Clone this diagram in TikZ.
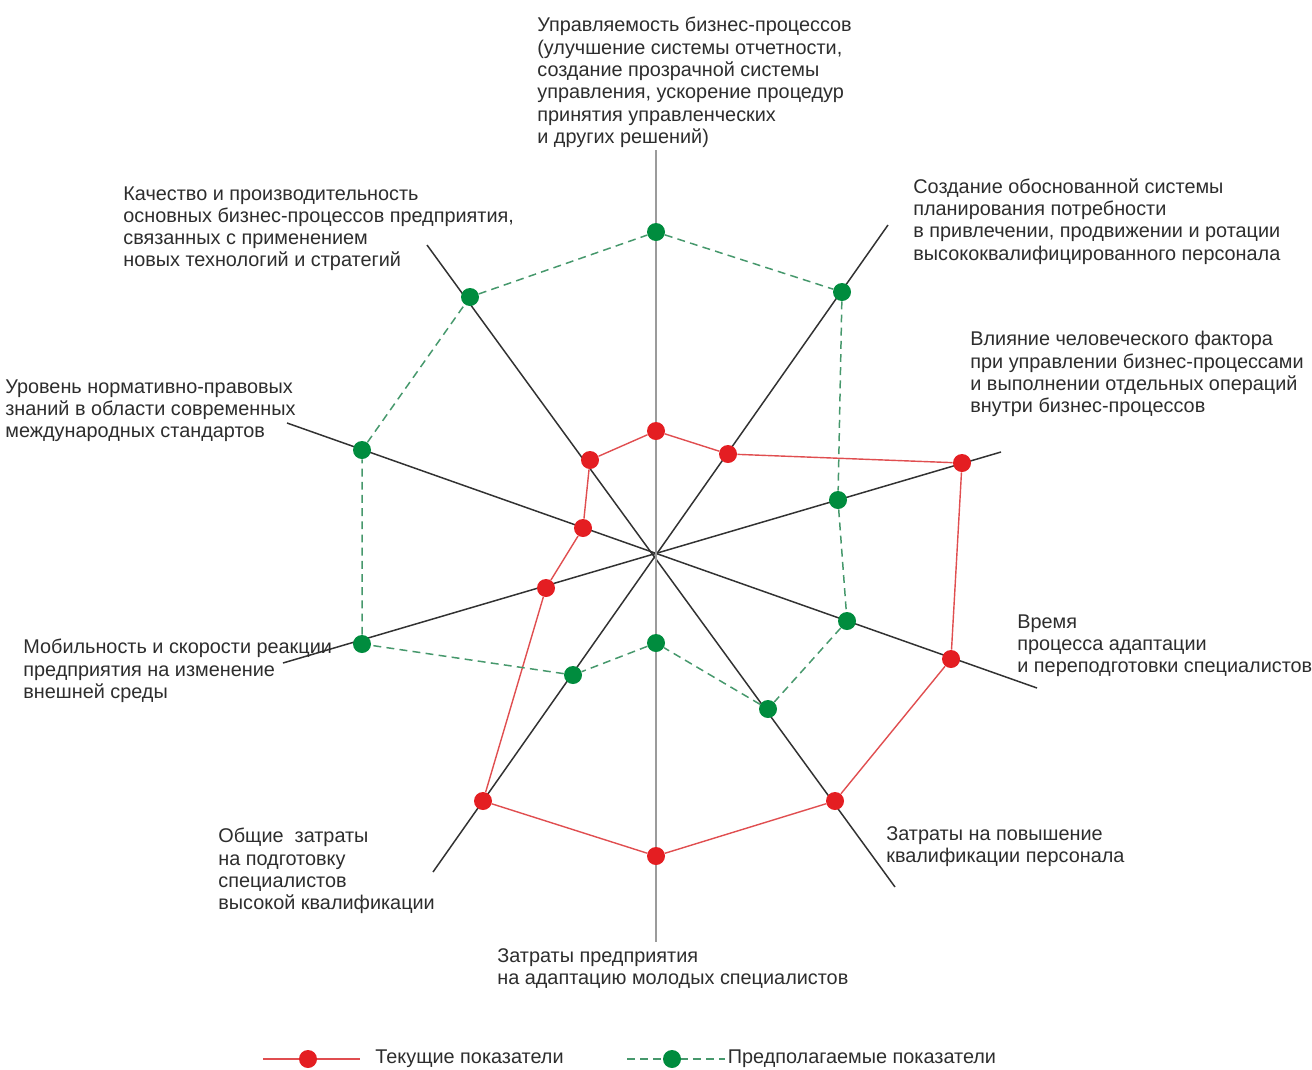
\documentclass[tikz,border=0pt]{standalone}
\usepackage{fontspec}
\setmainfont{Liberation Sans}
\usetikzlibrary{positioning}
\definecolor{mytext}{RGB}{45,45,45}
\definecolor{mydarkgray}{RGB}{50,50,50}
\definecolor{mylightgray}{RGB}{155,155,155}
\definecolor{mydarkred}{RGB}{228,30,34}
\definecolor{mylightred}{RGB}{224,78,80}
\definecolor{mydarkgreen}{RGB}{0,140,62}
\definecolor{mylightgreen}{RGB}{70,152,108}
\newcommand{\dotsize}{0.36cm}
\newcommand{\legendgap}{3mm}
\tikzset{
    axis/.style={draw=mydarkgray, line width=0.85pt},
    mainaxis/.style={draw=mylightgray, line width=1.6pt},
    dot/.style={circle, inner sep=0pt, minimum size=\dotsize},
    curdot/.style={dot, fill=mydarkred},
    plandot/.style={dot, fill=mydarkgreen},
    curline/.style={draw=mylightred, line width=0.8pt},
    planline/.style={draw=mylightgreen, line width=0.85pt, dash pattern=on 4.5pt off 3pt},
    caption/.style={anchor=north west, align=left, inner sep=0pt, text=mytext,
        font=\fontsize{11.3}{12.7}\selectfont}
}
\begin{document}
\begin{tikzpicture}[x=0.02cm, y=-0.02cm]
    \useasboundingbox (0,0) rectangle (1312,1069);

    \coordinate (ax-top) at (656,150);
    \coordinate (ax-bottom) at (656,942);
    \coordinate (ax-ne) at (888,225);
    \coordinate (ax-sw) at (433,872);
    \coordinate (ax-nw) at (427,245);
    \coordinate (ax-se) at (895,887);
    \coordinate (ax-ene) at (1001,452);
    \coordinate (ax-wsw) at (283,663);
    \coordinate (ax-wnw) at (287,423);
    \coordinate (ax-ese) at (1037,688);

    \draw[axis] (ax-ne) -- (ax-sw);
    \draw[axis] (ax-nw) -- (ax-se);
    \draw[axis] (ax-ene) -- (ax-wsw);
    \draw[axis] (ax-wnw) -- (ax-ese);
    \draw[mainaxis] (ax-top) -- (ax-bottom);

    % current values
    \path
        node[curdot] (cur-top) at (656,431) {}
        node[curdot] (cur-ne) at (728,454) {}
        node[curdot] (cur-ene) at (962,463) {}
        node[curdot] (cur-ese) at (951,659) {}
        node[curdot] (cur-se) at (835,801) {}
        node[curdot] (cur-bottom) at (656,856) {}
        node[curdot] (cur-sw) at (483,801) {}
        node[curdot] (cur-wsw) at (546,588) {}
        node[curdot] (cur-wnw) at (583,528) {}
        node[curdot] (cur-nw) at (590,460) {};

    % planned values
    \path
        node[plandot] (plan-top) at (656,232) {}
        node[plandot] (plan-ne) at (842,292) {}
        node[plandot] (plan-ene) at (838,500) {}
        node[plandot] (plan-ese) at (847,621) {}
        node[plandot] (plan-se) at (768,709) {}
        node[plandot] (plan-bottom) at (656,643) {}
        node[plandot] (plan-sw) at (573,675) {}
        node[plandot] (plan-wsw) at (362,644) {}
        node[plandot] (plan-wnw) at (362,450) {}
        node[plandot] (plan-nw) at (470,297) {};

    \draw[curline] (cur-top) -- (cur-ne) -- (cur-ene) -- (cur-ese) -- (cur-se) -- (cur-bottom)
        -- (cur-sw) -- (cur-wsw) -- (cur-wnw) -- (cur-nw) -- (cur-top);
    \draw[planline] (plan-top) -- (plan-ne) -- (plan-ene) -- (plan-ese) -- (plan-se) -- (plan-bottom)
        -- (plan-sw) -- (plan-wsw) -- (plan-wnw) -- (plan-nw) -- (plan-top);

    \node[caption] (lab-top) at (537,17) {Управляемость бизнес-процессов\\(улучшение системы отчетности,\\создание прозрачной системы\\управления, ускорение процедур\\принятия управленческих\\и других решений)};
    \node[caption] (lab-ne) at (913,178) {Создание обоснованной системы\\планирования потребности\\в привлечении, продвижении и ротации\\высококвалифицированного персонала};
    \node[caption] (lab-ene) at (970,331) {Влияние человеческого фактора\\при управлении бизнес-процессами\\и выполнении отдельных операций\\внутри бизнес-процессов};
    \node[caption] (lab-ese) at (1017,614) {Время\\процесса адаптации\\и переподготовки специалистов};
    \node[caption] (lab-se) at (886,826) {Затраты на повышение\\квалификации персонала};
    \node[caption] (lab-bottom) at (497,948) {Затраты предприятия\\на адаптацию молодых специалистов};
    \node[caption] (lab-sw) at (218,828) {Общие\ \ затраты\\на подготовку\\специалистов\\высокой квалификации};
    \node[caption] (lab-wsw) at (23,639) {Мобильность и скорости реакции\\предприятия на изменение\\внешней среды};
    \node[caption] (lab-wnw) at (5,379) {Уровень нормативно-правовых\\знаний в области современных\\международных стандартов};
    \node[caption] (lab-nw) at (123,186) {Качество и производительность\\основных бизнес-процессов предприятия,\\связанных с применением\\новых технологий и стратегий};

    % legend
    \coordinate (leg-cur-a) at (263,1059);
    \coordinate (leg-cur-b) at (360,1059);
    \draw[curline] (leg-cur-a) -- (leg-cur-b);
    \node[curdot] (leg-cur) at (308,1059) {};
    \node[caption, anchor=west, right=\legendgap of leg-cur-b] (leg-cur-text) {Текущие показатели};

    \coordinate (leg-plan-a) at (627,1059);
    \coordinate (leg-plan-b) at (725,1059);
    \draw[planline] (leg-plan-a) -- (leg-plan-b);
    \node[plandot] (leg-plan) at (672,1059) {};
    \node[caption, anchor=west, right=0.5mm of leg-plan-b] (leg-plan-text) {Предполагаемые показатели};
\end{tikzpicture}
\end{document}
